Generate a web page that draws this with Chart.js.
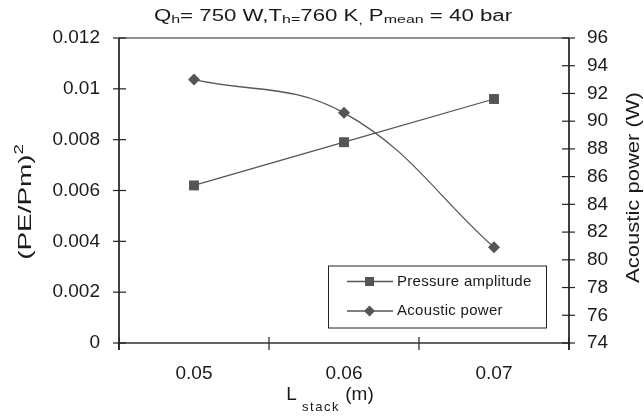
<!DOCTYPE html>
<html><head><meta charset="utf-8">
<script src="https://cdn.jsdelivr.net/npm/chart.js@4.4.0/dist/chart.umd.min.js"></script>
<style>html,body{margin:0;padding:0;background:#fff}#wrap{width:644px;height:417px;position:relative}</style>
</head><body><div id="wrap"><canvas id="c" width="644" height="417"></canvas></div>
<script>
const categories = ['0.05', '0.06', '0.07'];
const pressureAmplitude = [0.0062, 0.0079, 0.0096];
const acousticPower = [93.0, 90.6, 80.9];
const seriesNames = ['Pressure amplitude', 'Acoustic power'];
const leftRange = [0, 0.012, 0.002];
const rightRange = [74, 96, 2];

const FONT = "'Liberation Sans', Arial, sans-serif";
const LINE = '#555555';
const TXT = '#1a1a1a';

// draws text runs centred on (x, y); sx stretches along the writing direction
function richText(ctx, parts, x, y, sx) {
  let total = 0;
  parts.forEach(p => {
    ctx.font = p[1] + 'px ' + FONT;
    ctx.letterSpacing = (p[3] || 0) + 'px';
    total += ctx.measureText(p[0]).width;
  });
  ctx.save();
  ctx.translate(x, y);
  ctx.scale(sx || 1, 1);
  let cx = -total / 2;
  parts.forEach(p => {
    ctx.font = p[1] + 'px ' + FONT;
    ctx.letterSpacing = (p[3] || 0) + 'px';
    ctx.fillText(p[0], cx, p[2] || 0);
    cx += ctx.measureText(p[0]).width;
  });
  ctx.restore();
  ctx.letterSpacing = '0px';
}

const decor = {
  id: 'decor',
  afterDraw(chart) {
    const ctx = chart.ctx;
    const a = chart.chartArea;
    const xs = chart.scales.x, yl = chart.scales.y, yr = chart.scales.y1;
    ctx.save();
    // frame
    ctx.lineWidth = 1.6;
    ctx.strokeStyle = '#6a6a6a';
    ctx.beginPath(); ctx.moveTo(a.left, a.top); ctx.lineTo(a.right, a.top); ctx.stroke();
    ctx.strokeStyle = '#333';
    ctx.beginPath(); ctx.moveTo(a.left, a.bottom); ctx.lineTo(a.right, a.bottom); ctx.stroke();
    ctx.strokeStyle = '#111';
    ctx.beginPath(); ctx.moveTo(a.left, a.top); ctx.lineTo(a.left, a.bottom + 7); ctx.stroke();
    ctx.beginPath(); ctx.moveTo(a.right, a.top); ctx.lineTo(a.right, a.bottom + 7); ctx.stroke();
    // ticks
    ctx.lineWidth = 1.2;
    ctx.strokeStyle = '#222';
    for (let v = leftRange[0]; v <= leftRange[1] + 1e-9; v += leftRange[2]) {
      const py = yl.getPixelForValue(v);
      ctx.beginPath(); ctx.moveTo(a.left - 6, py); ctx.lineTo(a.left + 7, py); ctx.stroke();
    }
    for (let v = rightRange[0]; v <= rightRange[1] + 1e-9; v += rightRange[2]) {
      const py = yr.getPixelForValue(v);
      ctx.beginPath(); ctx.moveTo(a.right - 7, py); ctx.lineTo(a.right + 6, py); ctx.stroke();
    }
    for (let i = 0; i <= categories.length; i++) {
      const px = xs.getPixelForValue(i - 0.5);
      ctx.beginPath(); ctx.moveTo(px, a.bottom - 6); ctx.lineTo(px, a.bottom + 7); ctx.stroke();
    }
    // title
    ctx.fillStyle = TXT;
    ctx.textBaseline = 'alphabetic';
    ctx.textAlign = 'left';
    richText(ctx, [
      ['Q', 16], ['h', 11.5, 2], ['= 750 W,T', 16], ['h=', 11.5, 2], ['760 K', 16], [',', 11, 3], [' P', 16], ['mean', 11.5, 2], [' = 40 bar', 16]
    ], 333, 20.5, 1.39);
    // x title
    richText(ctx, [['L ', 19], ['stack', 13, 11, 1.5], [' (m)', 19]], 330, 400, 1);
    // left title
    ctx.save();
    ctx.translate(31, 202);
    ctx.rotate(-Math.PI / 2);
    richText(ctx, [['(PE/Pm)', 18], ['2', 12, -8]], 0, 0, 1.55);
    ctx.restore();
    // right title
    ctx.save();
    ctx.translate(639, 187.5);
    ctx.rotate(-Math.PI / 2);
    richText(ctx, [['Acoustic power (W)', 18.5]], 0, 0, 1.19);
    ctx.restore();
    // legend
    const lx = 328.5, ly = 266, lw = 218, lh = 62;
    ctx.fillStyle = '#fff';
    ctx.fillRect(lx, ly, lw, lh);
    ctx.lineWidth = 1;
    ctx.strokeStyle = '#222';
    ctx.strokeRect(lx, ly, lw, lh);
    const rows = [281.5, 311];
    rows.forEach((ry, i) => {
      ctx.strokeStyle = LINE; ctx.lineWidth = 1.3;
      ctx.beginPath(); ctx.moveTo(347, ry); ctx.lineTo(393, ry); ctx.stroke();
      ctx.fillStyle = LINE;
      const mx = 369.5;
      if (i === 0) {
        ctx.fillRect(mx - 4.5, ry - 4.5, 9, 9);
      } else {
        ctx.beginPath(); ctx.moveTo(mx - 5.5, ry); ctx.lineTo(mx, ry - 5.5); ctx.lineTo(mx + 5.5, ry); ctx.lineTo(mx, ry + 5.5); ctx.closePath(); ctx.fill();
      }
      ctx.fillStyle = TXT;
      ctx.textBaseline = 'middle';
      ctx.font = '15px ' + FONT;
      ctx.letterSpacing = '0.3px';
      ctx.fillText(seriesNames[i], 397, ry);
      ctx.letterSpacing = '0px';
    });
    ctx.restore();
  }
};

const tickFont = { family: FONT, size: 19 };

new Chart(document.getElementById('c'), {
  type: 'line',
  data: {
    labels: categories,
    datasets: [
      {
        label: seriesNames[0], data: pressureAmplitude, yAxisID: 'y',
        borderColor: LINE, backgroundColor: LINE, borderWidth: 1.3,
        pointStyle: 'rect', pointRadius: 7, pointBorderWidth: 0, tension: 0
      },
      {
        label: seriesNames[1], data: acousticPower, yAxisID: 'y1',
        borderColor: LINE, backgroundColor: LINE, borderWidth: 1.3,
        pointStyle: 'rectRot', pointRadius: 6, pointBorderWidth: 0, tension: 0.4
      }
    ]
  },
  options: {
    responsive: false, animation: false, devicePixelRatio: 1,
    layout: { padding: { top: 38, left: 0, right: 0, bottom: 0 } },
    plugins: { legend: { display: false }, title: { display: false }, tooltip: { enabled: false } },
    scales: {
      x: {
        type: 'category', offset: true,
        grid: { display: false, drawTicks: false }, border: { display: false },
        ticks: { font: tickFont, color: TXT, padding: 19, maxRotation: 0 },
        afterFit: s => { s.height = 74; }
      },
      y: {
        position: 'left', min: leftRange[0], max: leftRange[1],
        grid: { display: false, drawTicks: false }, border: { display: false },
        ticks: { stepSize: leftRange[2], font: tickFont, color: TXT, padding: 19,
          callback: v => String(Number(v.toFixed(3))) },
        afterFit: s => { s.width = 119; }
      },
      y1: {
        position: 'right', min: rightRange[0], max: rightRange[1],
        grid: { display: false, drawTicks: false }, border: { display: false },
        ticks: { stepSize: rightRange[2], font: tickFont, color: TXT, padding: 18 },
        afterFit: s => { s.width = 75; }
      }
    }
  },
  plugins: [decor]
});
</script>
</body></html>
